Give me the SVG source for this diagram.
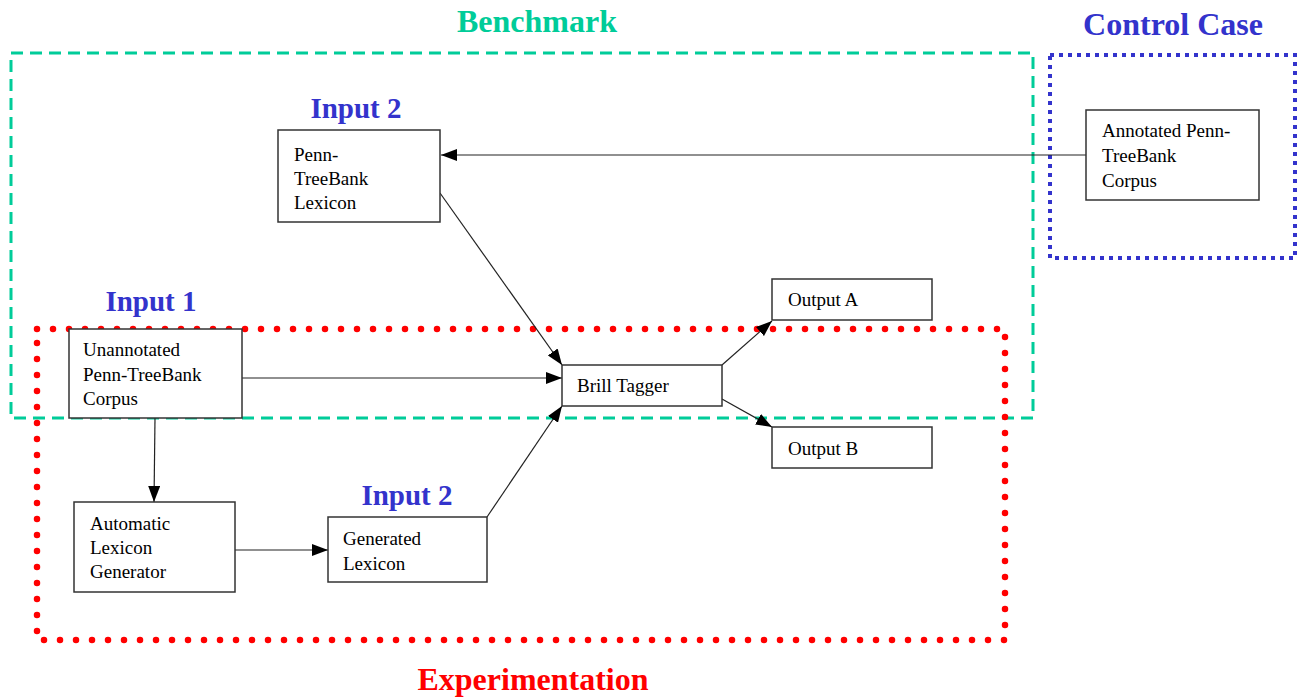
<svg xmlns="http://www.w3.org/2000/svg" width="1298" height="698" viewBox="0 0 1298 698">
<defs>
<marker id="arr" viewBox="0 0 16 12" refX="16" refY="6" markerWidth="16" markerHeight="12" markerUnits="userSpaceOnUse" orient="auto">
<path d="M0,0 L16,6 L0,12 z" fill="#000"/>
</marker>
<style>
.title{font-family:"Liberation Serif",serif;font-weight:bold;font-size:32px}
.inp{font-family:"Liberation Serif",serif;font-weight:bold;font-size:29px;fill:#3333CC}
.box{fill:#fff;stroke:#333;stroke-width:1.5}
.lbl{font-family:"Liberation Serif",serif;font-size:19px;fill:#000}
.conn{stroke:#222;stroke-width:1.2;fill:none;marker-end:url(#arr)}
</style>
</defs>
<rect width="1298" height="698" fill="#fff"/>

<g id="groups">
<rect x="11" y="53" width="1022" height="365" fill="none" stroke="#00CC99" stroke-width="3" stroke-dasharray="12 7"/>
<rect x="1050" y="55" width="245" height="203" fill="none" stroke="#3333CC" stroke-width="4" stroke-dasharray="4 5"/>
<rect x="37" y="329" width="968" height="311" fill="none" stroke="#FF0000" stroke-width="6.5" stroke-linecap="round" stroke-dasharray="0 16"/>
<text class="title" x="537" y="32" text-anchor="middle" fill="#00CC99">Benchmark</text>
<text class="title" x="1173" y="35" text-anchor="middle" fill="#3333CC">Control Case</text>
<text class="title" x="533" y="690" text-anchor="middle" fill="#FF0000">Experimentation</text>
<text class="inp" x="356" y="118" text-anchor="middle">Input 2</text>
<text class="inp" x="151" y="311" text-anchor="middle">Input 1</text>
<text class="inp" x="407" y="505" text-anchor="middle">Input 2</text>
</g>

<g id="connectors">
<line class="conn" x1="1086" y1="155" x2="441" y2="155"/>
<line class="conn" x1="440" y1="193" x2="562" y2="365"/>
<line class="conn" x1="242" y1="378" x2="562" y2="378"/>
<line class="conn" x1="487" y1="517" x2="562" y2="406"/>
<line class="conn" x1="155" y1="418" x2="154" y2="502"/>
<line class="conn" x1="235" y1="550" x2="328" y2="550"/>
<line class="conn" x1="722" y1="365" x2="772" y2="321"/>
<line class="conn" x1="722" y1="399" x2="772" y2="427"/>
</g>

<g id="node-penn-lexicon">
<rect class="box" x="278" y="130" width="162" height="92"/>
<text class="lbl" x="294" y="161">Penn-</text>
<text class="lbl" x="294" y="185">TreeBank</text>
<text class="lbl" x="294" y="209">Lexicon</text>
</g>
<g id="node-annotated">
<rect class="box" x="1086" y="110" width="173" height="90"/>
<text class="lbl" x="1102" y="137">Annotated Penn-</text>
<text class="lbl" x="1102" y="162">TreeBank</text>
<text class="lbl" x="1102" y="187">Corpus</text>
</g>
<g id="node-unannotated">
<rect class="box" x="69" y="329" width="173" height="89"/>
<text class="lbl" x="83" y="356">Unannotated</text>
<text class="lbl" x="83" y="381">Penn-TreeBank</text>
<text class="lbl" x="83" y="405">Corpus</text>
</g>
<g id="node-brill">
<rect class="box" x="562" y="365" width="160" height="41"/>
<text class="lbl" x="577" y="392">Brill Tagger</text>
</g>
<g id="node-output-a">
<rect class="box" x="772" y="279" width="160" height="41"/>
<text class="lbl" x="788" y="306">Output A</text>
</g>
<g id="node-output-b">
<rect class="box" x="772" y="427" width="160" height="41"/>
<text class="lbl" x="788" y="455">Output B</text>
</g>
<g id="node-generator">
<rect class="box" x="74" y="502" width="161" height="90"/>
<text class="lbl" x="90" y="530">Automatic</text>
<text class="lbl" x="90" y="554">Lexicon</text>
<text class="lbl" x="90" y="578">Generator</text>
</g>
<g id="node-generated">
<rect class="box" x="328" y="517" width="159" height="65"/>
<text class="lbl" x="343" y="545">Generated</text>
<text class="lbl" x="343" y="570">Lexicon</text>
</g>
</svg>
